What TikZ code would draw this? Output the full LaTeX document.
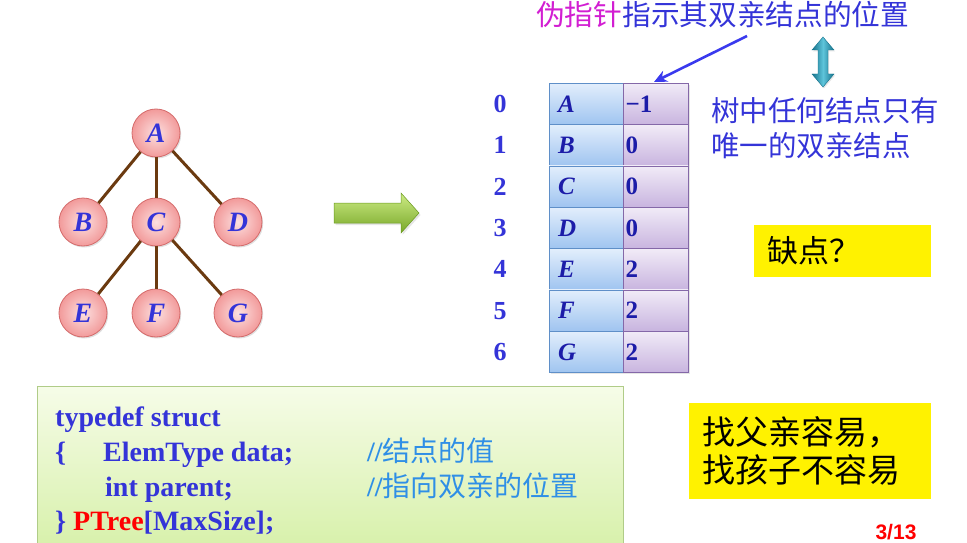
\documentclass[tikz,border=0pt]{standalone}
\usepackage{fontspec}
\setmainfont{Liberation Serif}
\newfontfamily\cjk{Noto Sans CJK SC}
\newfontfamily\sansf{Liberation Sans}
\usetikzlibrary{shadows,arrows.meta,calc}
\definecolor{txtblue}{HTML}{3434D8}
\definecolor{dkblue}{HTML}{1C1CA8}
\definecolor{cmtblue}{HTML}{2F8FE6}
\definecolor{magtxt}{HTML}{D21ED2}
\definecolor{pinkin}{HTML}{FCE0E0}
\definecolor{pinkout}{HTML}{F29A9A}
\definecolor{pinkedge}{HTML}{D46A6A}
\definecolor{edgebrown}{HTML}{6B3A10}
\definecolor{lctop}{HTML}{E2EEFC}
\definecolor{lcbot}{HTML}{9FC4F0}
\definecolor{lcedge}{HTML}{5F8FC8}
\definecolor{rctop}{HTML}{F1EBF7}
\definecolor{rcbot}{HTML}{C8B4DF}
\definecolor{rcedge}{HTML}{8468A8}
\definecolor{gatop}{HTML}{CDEB85}
\definecolor{gabot}{HTML}{78A828}
\definecolor{gaedge}{HTML}{6A9A20}
\definecolor{tealdk}{HTML}{16738C}
\definecolor{teallt}{HTML}{5EC4DA}
\definecolor{codetop}{HTML}{F6FCE8}
\definecolor{codebot}{HTML}{D3EFA2}
\definecolor{codeedge}{HTML}{B0CC88}
\definecolor{ptrblue}{HTML}{3A3AEE}
\begin{document}
\begin{tikzpicture}[x=1pt,y=-1pt,
  treenode/.style={circle, minimum size=48pt, inner sep=0pt, draw=pinkedge, line width=0.8pt,
    inner color=pinkin, outer color=pinkout, text=txtblue,
    font=\fontsize{28}{28}\selectfont\bfseries\itshape,
    drop shadow={opacity=0.25, shadow xshift=1.2pt, shadow yshift=-1.5pt}},
  treeedge/.style={draw=edgebrown, line width=3pt},
  lcell/.style={rectangle, minimum width=74pt, minimum height=41.33pt, inner sep=0pt,
    text width=56pt, align=left, draw=lcedge, line width=0.8pt,
    top color=lctop, bottom color=lcbot, text=dkblue,
    font=\fontsize{25}{25}\selectfont\bfseries\itshape},
  rcell/.style={rectangle, minimum width=65pt, minimum height=41.33pt, inner sep=0pt,
    text width=60pt, align=left, draw=rcedge, line width=0.8pt,
    top color=rctop, bottom color=rcbot, text=dkblue,
    font=\fontsize{25}{25}\selectfont\bfseries},
  idx/.style={text=txtblue, font=\fontsize{26}{26}\selectfont\bfseries},
  ybox/.style={rectangle, fill=yellow, inner xsep=13pt, inner ysep=0pt, align=left,
    font=\cjk\fontsize{31}{38}\selectfont, text=black},
  codeline/.style={anchor=base west, inner sep=0pt, text=txtblue,
    font=\fontsize{28}{28}\selectfont\bfseries},
  cmt/.style={anchor=base west, inner sep=0pt, text=cmtblue,
    font=\fontsize{28}{28}\selectfont\bfseries}
]
\useasboundingbox (0,0) rectangle (967,543);
\clip (0,0) rectangle (967,543);

% ---------- tree ----------
\node[treenode] (A) at (156,133) {A};
\node[treenode] (B) at (83,222) {B};
\node[treenode] (C) at (156,222) {C};
\node[treenode] (D) at (238,222) {D};
\node[treenode] (E) at (83,313) {E};
\node[treenode] (F) at (156,313) {F};
\node[treenode] (G) at (238,313) {G};
\draw[treeedge] (A) -- (B);
\draw[treeedge] (A) -- (C);
\draw[treeedge] (A) -- (D);
\draw[treeedge] (C) -- (E);
\draw[treeedge] (C) -- (F);
\draw[treeedge] (C) -- (G);

% ---------- green arrow ----------
\path[top color=gatop, bottom color=gabot, draw=gaedge, line width=0.5pt,
  drop shadow={opacity=0.2, shadow xshift=1.5pt, shadow yshift=-2pt}]
  (334,203) -- (401,203) -- (401,193) -- (419,213) -- (401,233) -- (401,223) -- (334,223) -- cycle;

% ---------- table ----------
\foreach \i/\l/\v in {0/A/{−1},1/B/0,2/C/0,3/D/0,4/E/2,5/F/2,6/G/2}{
  \node[lcell, drop shadow={opacity=0.2, shadow xshift=1.5pt, shadow yshift=-1.5pt}] (l\i) at (586,{104+41.33*\i}) {\l};
  \node[rcell, drop shadow={opacity=0.2, shadow xshift=1.5pt, shadow yshift=-1.5pt}] (v\i) at (655.5,{104+41.33*\i}) {\v};
  \node[idx] (n\i) at (500,{104+41.33*\i}) {\i};
}

% ---------- top annotation ----------
\node[anchor=west, inner sep=0pt, text=txtblue, font=\cjk\fontsize{28.7}{28.7}\selectfont]
  (ttl) at (536,15) {{\color{magtxt}伪指针}指示其双亲结点的位置};
\coordinate (ps) at (747,36);
\coordinate (pe) at (654,82);
\draw[ptrblue, line width=2.6pt, -{Stealth[length=13pt,width=12pt]}] (ps) -- (pe);

% ---------- teal double arrow ----------
\path[left color=tealdk, right color=tealdk, middle color=teallt, draw=tealdk, line width=0.4pt,
  drop shadow={opacity=0.2, shadow xshift=1pt, shadow yshift=-1.5pt}]
  (823,37) -- (834,50) -- (828,50) -- (828,74) -- (834,74) -- (823,87)
  -- (812,74) -- (818,74) -- (818,50) -- (812,50) -- cycle;

\node[anchor=north west, inner sep=0pt, align=left, text=txtblue,
  font=\cjk\fontsize{28.5}{35}\selectfont] (rt) at (711,97) {树中任何结点只有\\唯一的双亲结点};

% ---------- yellow boxes ----------
\node[ybox, minimum width=177pt, minimum height=52pt, text width=151pt] (y1) at (842.5,251) {缺点？};
\node[ybox, minimum width=242pt, minimum height=96pt, text width=216pt,
  font=\cjk\fontsize{33}{38}\selectfont] (y2) at (810,451) {找父亲容易，\\找孩子不容易};

% ---------- code box ----------
\path[top color=codetop, bottom color=codebot, draw=codeedge, line width=0.8pt]
  (37,386) rectangle (623,570);
\node[codeline] (c1) at (55,426) {typedef struct};
\node[codeline] (c2a) at (55,461) {\{};
\node[codeline] (c2b) at (103,461) {ElemType data;};
\node[codeline] (c3) at (105,496) {int parent;};
\node[codeline] (c4) at (55,530) {\} {\color{red}PTree}[MaxSize];};
\node[cmt] (k1) at (367,461) {//{\cjk\mdseries 结点的值}};
\node[cmt] (k2) at (367,496) {//{\cjk\mdseries 指向双亲的位置}};

% ---------- page number ----------
\node[anchor=north, inner sep=0pt, text=red, font=\sansf\fontsize{21}{21}\selectfont\bfseries]
  (pg) at (896,524) {3/13};
\end{tikzpicture}
\end{document}
